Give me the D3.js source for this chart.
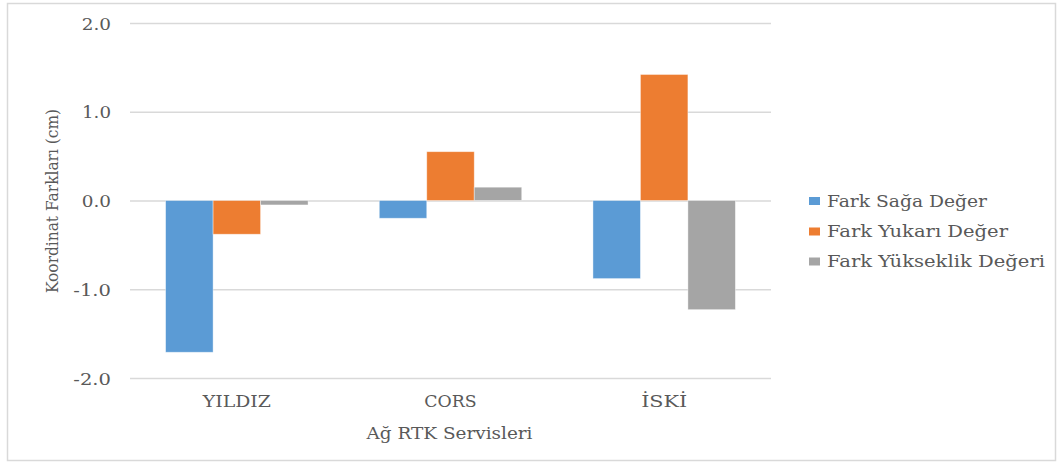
<!DOCTYPE html>
<html>
<head>
<meta charset="utf-8">
<script src="https://cdn.jsdelivr.net/npm/d3@7"></script>
<style>
  html, body { margin: 0; padding: 0; background: #fff; }
  svg { display: block; }
  text { fill: #595959; }
</style>
</head>
<body>
<svg id="chart" width="1063" height="464"></svg>
<script>
const categories = ["YILDIZ", "CORS", "İSKİ"];
const seriesNames = ["Fark Sağa Değer", "Fark Yukarı Değer", "Fark Yükseklik Değeri"];
const sagaValues = [-1.71, -0.20, -0.88];
const yukariValues = [-0.38, 0.55, 1.42];
const yukseklikValues = [-0.05, 0.15, -1.23];
const seriesColors = ["#5B9BD5", "#ED7D31", "#A5A5A5"];
const yTicks = [-2, -1, 0, 1, 2];
const yTitle = "Koordinat Farkları (cm)";
const xTitle = "Ağ RTK Servisleri";

const seriesValues = [sagaValues, yukariValues, yukseklikValues];
const FONT = "DejaVu Serif";

// rendered text widths in the original (layout styling)
const textWidths = {
  "2.0": 29.3, "1.0": 29, "0.0": 29.3, "-1.0": 37.7, "-2.0": 37.7,
  "YILDIZ": 68, "CORS": 52.3, "İSKİ": 46,
  "Ağ RTK Servisleri": 166, "Koordinat Farkları (cm)": 184,
  "Fark Sağa Değer": 160, "Fark Yukarı Değer": 181, "Fark Yükseklik Değeri": 218
};
function fit(sel) {
  sel.each(function () {
    const t = d3.select(this).text();
    if (textWidths[t]) d3.select(this).attr("textLength", textWidths[t]).attr("lengthAdjust", "spacingAndGlyphs");
  });
}

const svg = d3.select("#chart");
const plot = { left: 130, right: 771, top: 23, bottom: 378 };

svg.append("rect")
  .attr("x", 7.5).attr("y", 3.5)
  .attr("width", 1048).attr("height", 457)
  .attr("fill", "#fff").attr("stroke", "#D9D9D9").attr("stroke-width", 1.5);

const y = d3.scaleLinear().domain([-2, 2]).range([plot.bottom, plot.top]);
const x0 = d3.scaleBand().domain(categories).range([plot.left, plot.right]).paddingInner(1.5 / 4.5).paddingOuter(0.75 / 4.5);
const x1 = d3.scaleBand().domain(d3.range(seriesNames.length)).range([0, x0.bandwidth()]);

const fmt = d => d.toFixed(1);
const yAxis = d3.axisLeft(y).tickValues(yTicks).tickFormat(fmt).tickSize(-(plot.right - plot.left)).tickPadding(19);
const gy = svg.append("g").attr("transform", `translate(${plot.left},0)`).call(yAxis);
gy.select(".domain").remove();
gy.selectAll(".tick line").attr("stroke", "#D9D9D9").attr("stroke-width", 1.3);
gy.selectAll(".tick text")
  .attr("fill", "#595959")
  .attr("font-family", FONT)
  .attr("font-size", 16.5)
  .attr("dy", "0.37em")
  .call(fit);

const groups = svg.append("g").selectAll("g")
  .data(categories)
  .join("g")
  .attr("transform", d => `translate(${x0(d)},0)`);

groups.selectAll("rect")
  .data((c, ci) => seriesValues.map((vals, si) => ({ si, v: vals[ci] })))
  .join("rect")
  .attr("x", d => x1(d.si))
  .attr("width", x1.bandwidth())
  .attr("y", d => y(Math.max(0, d.v)))
  .attr("height", d => Math.abs(y(d.v) - y(0)))
  .attr("fill", d => seriesColors[d.si])
  .attr("stroke", "#fff").attr("stroke-opacity", 0.5).attr("stroke-width", 0.8);

const xAxis = d3.axisBottom(x0).tickSize(0).tickPadding(13);
const gx = svg.append("g").attr("transform", `translate(0,${plot.bottom})`).call(xAxis);
gx.select(".domain").remove();
gx.selectAll(".tick text")
  .attr("fill", "#595959")
  .attr("font-family", FONT)
  .attr("font-size", 16)
  .attr("y", 28.5)
  .attr("dy", null)
  .call(fit);

svg.append("text")
  .attr("x", (plot.left + plot.right) / 2 - 1)
  .attr("y", 438.5)
  .attr("text-anchor", "middle")
  .attr("font-family", FONT)
  .attr("font-size", 16.5)
  .text(xTitle)
  .call(fit);

svg.append("text")
  .attr("transform", "translate(58,201) rotate(-90)")
  .attr("text-anchor", "middle")
  .attr("font-family", FONT)
  .attr("font-size", 16)
  .text(yTitle)
  .call(fit);

const legend = svg.append("g").attr("transform", "translate(809,0)");
const legendY = [201, 231.5, 261.5];
seriesNames.forEach((name, i) => {
  legend.append("rect")
    .attr("x", 0).attr("y", legendY[i] - 4)
    .attr("width", 11).attr("height", 8)
    .attr("fill", seriesColors[i]);
  legend.append("text")
    .attr("x", 18).attr("y", legendY[i])
    .attr("dy", "0.36em")
    .attr("font-family", FONT)
    .attr("font-size", 16.5)
    .text(name)
    .call(fit);
});
</script>
</body>
</html>
